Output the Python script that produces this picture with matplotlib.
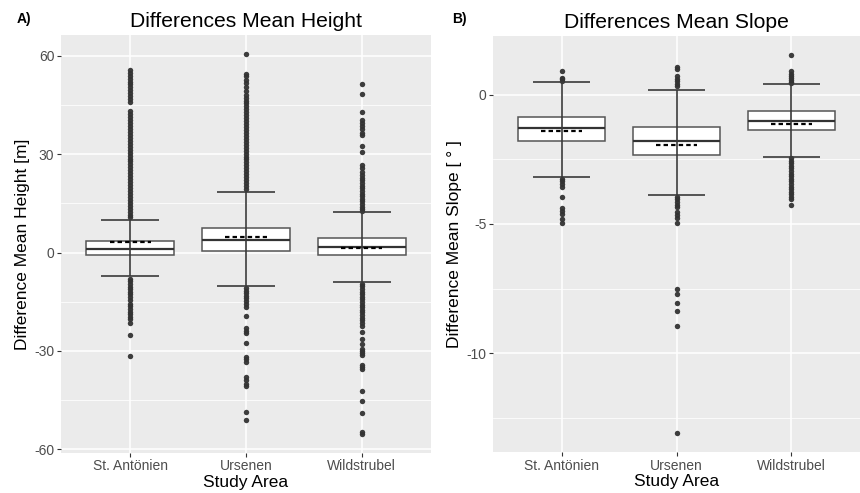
import matplotlib
matplotlib.use("Agg")
import matplotlib.pyplot as plt
from matplotlib.ticker import FixedLocator

plt.rcParams['font.family'] = ['Liberation Sans', 'DejaVu Sans']

areas = ["St. Antönien", "Ursenen", "Wildstrubel"]

# ---- Panel A: differences of mean height [m] ----
h_q1 = [-0.9, 0.6, -0.9]
h_med = [1.1, 3.9, 1.65]
h_q3 = [3.6, 7.6, 4.4]
h_mean = [3.3, 4.6, 1.3]
h_whislo = [-7.3, -10.1, -8.9]
h_whishi = [10.0, 18.5, 12.3]
h_out_st = [55.6, 54.8, 54.0, 53.1, 52.2, 51.3, 50.4, 49.5, 48.6, 47.7, 46.8, 46.0,
            43.1, 42.2, 41.3, 40.4, 39.5, 38.6, 37.7, 36.8, 35.9, 35.0, 34.1, 33.2,
            32.3, 31.4, 30.5, 29.6, 28.7, 27.8, 26.9, 26.0, 25.1, 24.2, 23.3, 22.4,
            21.5, 20.6, 19.7, 18.8, 17.9, 17.0, 16.1, 15.2, 14.3, 13.4, 12.5, 11.6,
            10.8,
            -8.0, -8.8, -9.6, -10.4, -11.2, -12.0, -12.8, -13.6, -14.4, -15.6, -16.4,
            -17.2, -18.0, -18.8, -19.6, -20.4, -21.4, -25.2, -31.5]
h_out_ur = [60.6, 54.6, 53.8, 52.6, 51.6, 50.6, 49.2, 48.2, 47.3, 46.4, 45.5, 44.6,
            43.7, 42.8, 41.9, 41.0, 40.1, 39.2, 38.3, 37.4, 36.5, 35.6, 34.7, 33.8,
            32.9, 32.0, 31.1, 30.2, 29.3, 28.4, 27.5, 26.6, 25.7, 24.8, 23.9, 23.0,
            22.1, 21.2, 20.3, 19.4,
            -10.8, -11.6, -12.4, -13.2, -14.0, -14.8, -15.6, -16.5, -19.5, -23.0,
            -23.8, -24.6, -27.5, -31.8, -32.6, -33.4, -38.0, -38.8, -40.0, -40.8,
            -48.6, -51.2]
h_out_wi = [51.4, 48.3, 42.8, 40.3, 39.5, 38.6, 37.6, 36.6, 35.8, 32.4, 30.6, 26.8,
            25.8, 24.6, 23.6, 22.8, 22.0, 21.2, 20.4, 19.6, 18.8, 18.0, 17.2, 16.4,
            15.6, 14.8, 14.0, 13.2, 12.6,
            -9.5, -10.3, -11.1, -11.9, -12.7, -13.5, -14.3, -15.1, -15.9, -16.7,
            -17.5, -18.3, -19.1, -19.9, -20.7, -21.5, -22.4, -24.2, -26.5, -28.0,
            -29.3, -30.0, -30.7, -31.3, -34.3, -35.0, -35.4, -42.3, -45.4, -48.9,
            -54.7, -55.3]

# ---- Panel B: differences of mean slope [°] ----
s_q1 = [-1.78, -2.32, -1.36]
s_med = [-1.30, -1.78, -1.00]
s_q3 = [-0.88, -1.26, -0.64]
s_mean = [-1.42, -1.93, -1.13]
s_whislo = [-3.17, -3.86, -2.39]
s_whishi = [0.50, 0.17, 0.40]
s_out_st = [0.93, 0.66, 0.60, 0.55,
            -3.25, -3.35, -3.45, -3.55, -3.96, -4.40, -4.50, -4.60, -4.82, -4.95]
s_out_ur = [1.08, 1.00, 0.72, 0.62, 0.52, 0.42, 0.33,
            -3.95, -4.05, -4.15, -4.25, -4.35, -4.55, -4.65, -4.78, -4.98,
            -7.50, -7.70, -8.06, -8.38, -8.96, -13.10]
s_out_wi = [1.54, 0.90, 0.82, 0.74, 0.66, 0.58, 0.50, 0.44,
            -2.45, -2.55, -2.65, -2.75, -2.85, -2.95, -3.05, -3.15, -3.25, -3.35,
            -3.45, -3.55, -3.65, -3.75, -3.85, -3.95, -4.05, -4.28]

h_ticks = [-60, -30, 0, 30, 60]
h_minor = [-45, -15, 15, 45]
s_ticks = [-10, -5, 0]
s_minor = [-12.5, -7.5, -2.5]

BG = "#EBEBEB"
BOX_W = 0.76
CAP_W = 0.5
MEAN_W = 0.36


def panel(ax, q1, med, q3, mean, wlo, whi, outliers, ticks, minor,
          title, ylabel):
    ax.set_facecolor(BG)
    for s in ax.spines.values():
        s.set_visible(False)
    pos = list(range(1, len(areas) + 1))
    stats = []
    for i in range(len(areas)):
        stats.append(dict(med=med[i], q1=q1[i], q3=q3[i], whislo=q1[i],
                          whishi=q3[i], fliers=outliers[i], label=areas[i]))
    ax.bxp(stats, positions=pos, widths=BOX_W, patch_artist=True,
           showcaps=False, showfliers=True,
           boxprops=dict(facecolor="white", edgecolor="#555555", linewidth=1.1),
           medianprops=dict(color="#333333", linewidth=1.6),
           whiskerprops=dict(linewidth=0),
           flierprops=dict(marker="o", markersize=3.9, markerfacecolor="#333333",
                           markeredgecolor="none", alpha=0.95),
           zorder=3)
    # error-bar style whiskers drawn over the boxes
    ax.vlines(pos, wlo, whi, color="#3a3a3a", linewidth=1.2, zorder=5)
    for x, lo, hi in zip(pos, wlo, whi):
        ax.hlines([lo, hi], x - CAP_W / 2, x + CAP_W / 2, color="#3a3a3a",
                  linewidth=1.2, zorder=5)
    for x, m in zip(pos, mean):
        ax.hlines(m, x - MEAN_W / 2, x + MEAN_W / 2, color="black",
                  linewidth=1.6, linestyles=(0, (2.0, 1.4)), zorder=6)

    allv = [v for o in outliers for v in o] + list(wlo) + list(whi)
    lo, hi = min(allv), max(allv)
    pad = (hi - lo) * 0.05
    ax.set_ylim(lo - pad, hi + pad)
    ax.set_xlim(0.4, 3.6)
    ax.set_yticks(ticks)
    ax.set_yticklabels([str(t) for t in ticks])
    ax.yaxis.set_minor_locator(FixedLocator(minor))
    ax.set_xticks(pos)
    ax.set_xticklabels(areas)
    ax.grid(which="major", color="white", linewidth=1.1, zorder=0)
    ax.grid(which="minor", axis="y", color="white", linewidth=0.55, zorder=0)
    ax.set_axisbelow(True)
    ax.tick_params(axis="both", which="major", colors="#333333", length=2.8,
                   width=0.8, labelsize=10, labelcolor="#4D4D4D", pad=2)
    ax.tick_params(axis="both", which="minor", length=0)
    ax.set_xlabel("Study Area", fontsize=12.5, labelpad=1)
    ax.set_ylabel(ylabel, fontsize=12.5, labelpad=3)
    ax.set_title(title, fontsize=15.2, pad=6)
    return ax


fig = plt.figure(figsize=(8.6, 4.93), dpi=100)
axA = fig.add_axes([61 / 860, 40.3 / 493, 370 / 860, 417.7 / 493])
axB = fig.add_axes([493 / 860, 40.7 / 493, 367 / 860, 416.3 / 493])

panel(axA, h_q1, h_med, h_q3, h_mean, h_whislo, h_whishi,
      [h_out_st, h_out_ur, h_out_wi], h_ticks, h_minor,
      "Differences Mean Height", "Difference Mean Height [m]")
panel(axB, s_q1, s_med, s_q3, s_mean, s_whislo, s_whishi,
      [s_out_st, s_out_ur, s_out_wi], s_ticks, s_minor,
      "Differences Mean Slope", "Difference Mean Slope [ ° ]")

fig.text(17 / 860, 1 - 19 / 493, "A)", fontsize=10, fontweight="bold",
         va="center", ha="left")
fig.text(452 / 860, 1 - 19 / 493, "B)", fontsize=10, fontweight="bold",
         va="center", ha="left")

fig.savefig("out.png", dpi=100)
